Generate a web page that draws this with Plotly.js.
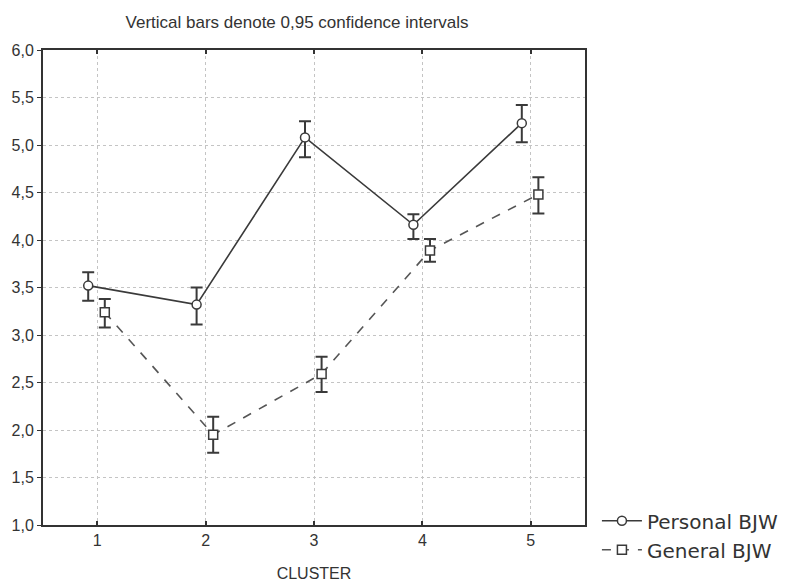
<!DOCTYPE html>
<html>
<head>
<meta charset="utf-8">
<script src="https://cdn.plot.ly/plotly-3.0.1.min.js"></script>
<style>html,body{margin:0;padding:0;background:#fff;}#chart{width:788px;height:582px;}</style>
</head>
<body>
<div id="chart"></div>
<script>
const clusters = [1, 2, 3, 4, 5];
const tickLabels = ['1', '2', '3', '4', '5'];
const personalMean = [3.52, 3.32, 5.08, 4.16, 5.23];
const personalLow  = [3.36, 3.11, 4.87, 4.01, 5.03];
const personalHigh = [3.66, 3.50, 5.25, 4.27, 5.42];
const generalMean  = [3.24, 1.95, 2.59, 3.89, 4.48];
const generalLow   = [3.08, 1.76, 2.40, 3.77, 4.28];
const generalHigh  = [3.38, 2.14, 2.77, 4.01, 4.66];

const personalShift = -0.083;
const generalShift = 0.07;
const ink = '#3a3a3a';

function errs(mean, lo, hi) {
  return {
    type: 'data', symmetric: false,
    array: hi.map((h, i) => h - mean[i]),
    arrayminus: mean.map((m, i) => m - lo[i]),
    color: ink, thickness: 2, width: 6
  };
}

const traces = [
  {
    x: clusters.map(c => c + personalShift), y: personalMean,
    name: 'Personal BJW', mode: 'lines+markers',
    line: {color: ink, width: 1.6},
    marker: {symbol: 'circle', size: 9, color: '#fff', line: {color: ink, width: 1.5}},
    error_y: errs(personalMean, personalLow, personalHigh)
  },
  {
    x: clusters.map(c => c + generalShift), y: generalMean,
    name: 'General BJW', mode: 'lines+markers',
    line: {color: '#555', width: 1.6, dash: 'dash'},
    marker: {symbol: 'square', size: 9, color: '#fff', line: {color: ink, width: 1.5}},
    error_y: errs(generalMean, generalLow, generalHigh)
  }
];

const layout = {
  width: 788, height: 582,
  margin: {l: 43, r: 203, t: 50, b: 57, autoexpand: false},
  paper_bgcolor: '#fff', plot_bgcolor: '#fff',
  separators: ',.',
  font: {family: 'Liberation Sans, Arial, sans-serif', size: 16, color: '#333'},
  title: {
    text: 'Vertical bars denote 0,95 confidence intervals',
    x: 0.377, xanchor: 'center', y: 0.962, yanchor: 'middle',
    font: {size: 17, color: '#333'}
  },
  xaxis: {
    range: [0.5, 5.5], tickmode: 'array', tickvals: clusters, ticktext: tickLabels,
    showgrid: true, gridcolor: '#c4c4c4', griddash: 'dot', gridwidth: 1,
    zeroline: false, showline: true, linecolor: '#333', linewidth: 2, mirror: 'allticks',
    ticks: 'inside', ticklen: 4, tickcolor: '#333', tickwidth: 2,
    tickfont: {size: 16},
    title: {text: 'CLUSTER', font: {size: 16}, standoff: 20}
  },
  yaxis: {
    range: [1, 6], dtick: 0.5, tick0: 1, tickformat: '.1f',
    showgrid: true, gridcolor: '#c4c4c4', griddash: 'dot', gridwidth: 1,
    zeroline: false, showline: true, linecolor: '#333', linewidth: 2, mirror: true,
    ticks: 'outside', ticklen: 4, tickcolor: '#333',
    tickfont: {size: 16}
  },
  showlegend: true,
  legend: {
    x: 1.022, xanchor: 'left', y: 0.05, yanchor: 'top',
    font: {family: 'DejaVu Sans, Verdana, sans-serif', size: 20, color: '#333'},
    tracegroupgap: 0, itemwidth: 40, bgcolor: 'rgba(0,0,0,0)'
  }
};

Plotly.newPlot('chart', traces, layout, {displayModeBar: false, staticPlot: true});
</script>
</body>
</html>
